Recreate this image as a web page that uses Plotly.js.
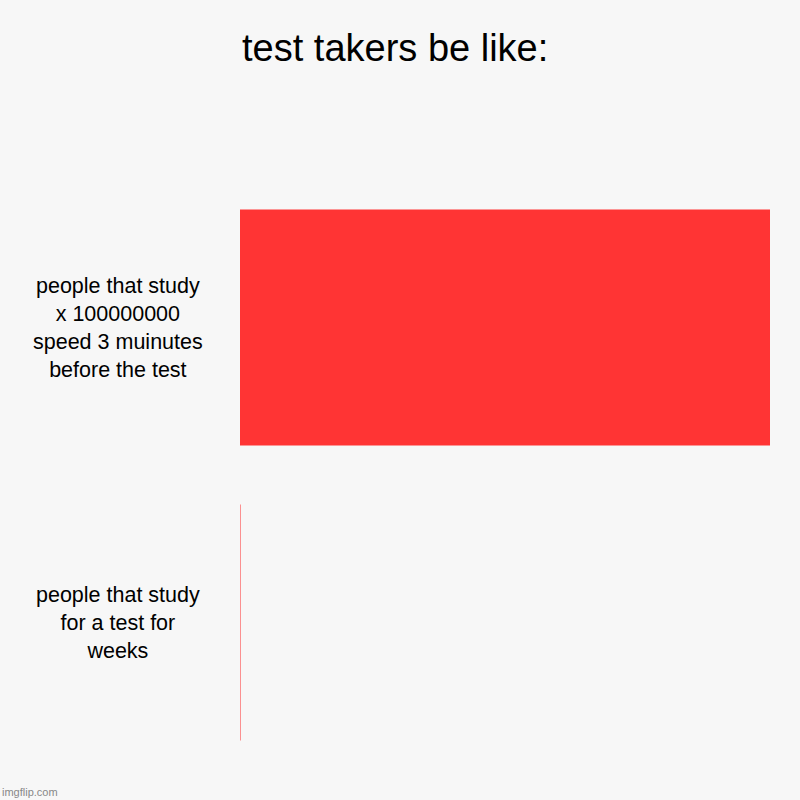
<!DOCTYPE html>
<html>
<head>
<meta charset="utf-8">
<script src="https://cdn.plot.ly/plotly-3.0.1.min.js"></script>
<style>
  html, body { margin: 0; padding: 0; background: #f7f7f7; }
  #chart { width: 800px; height: 800px; }
</style>
</head>
<body>
<div id="chart"></div>
<script>
// chart data
const chartTitle = "test takers be like:";
const categories = [
    "people that study<br>x 100000000<br>speed 3 muinutes<br>before the test",
    "people that study<br>for a test for<br>weeks"
];
const values = [100, 0.1];
const barColor = "#ff3434";

let trace = {
    type: "bar",
    orientation: "h",
    x: values,
    y: categories,
    marker: { color: barColor },
    hoverinfo: "none"
};

// labels drawn centered, like the original
let labels = categories.map(function (c) {
    return {
        text: c,
        x: -0.23,
        xref: "paper",
        y: c,
        yref: "y",
        xanchor: "center",
        yanchor: "middle",
        align: "center",
        showarrow: false,
        font: { family: "Liberation Sans, Arial, sans-serif", size: 21.5, color: "#000" }
    };
});

// watermark, bottom left corner (outside the plot area)
labels.push({
    text: "imgflip.com",
    x: -240 / 530,
    y: -30 / 590,
    xref: "paper",
    yref: "paper",
    xanchor: "left",
    yanchor: "bottom",
    showarrow: false,
    font: { family: "Liberation Sans, Arial, sans-serif", size: 11, color: "#888" }
});

let layout = {
    width: 800,
    height: 800,
    paper_bgcolor: "#f7f7f7",
    plot_bgcolor: "#f7f7f7",
    margin: { l: 240, r: 30, t: 180, b: 30 },
    title: {
        text: chartTitle,
        x: 0.494,
        xanchor: "center",
        y: 0.94,
        yanchor: "middle",
        font: { family: "Liberation Sans, Arial, sans-serif", size: 38, color: "#000" }
    },
    bargap: 0.2,
    showlegend: false,
    xaxis: {
        range: [0, values[0]],
        visible: false,
        fixedrange: true
    },
    yaxis: {
        autorange: "reversed",
        showticklabels: false,
        showgrid: false,
        zeroline: false,
        showline: false,
        ticks: ""
    },
    annotations: labels
};

Plotly.newPlot("chart", [trace], layout, { staticPlot: true });
</script>
</body>
</html>
